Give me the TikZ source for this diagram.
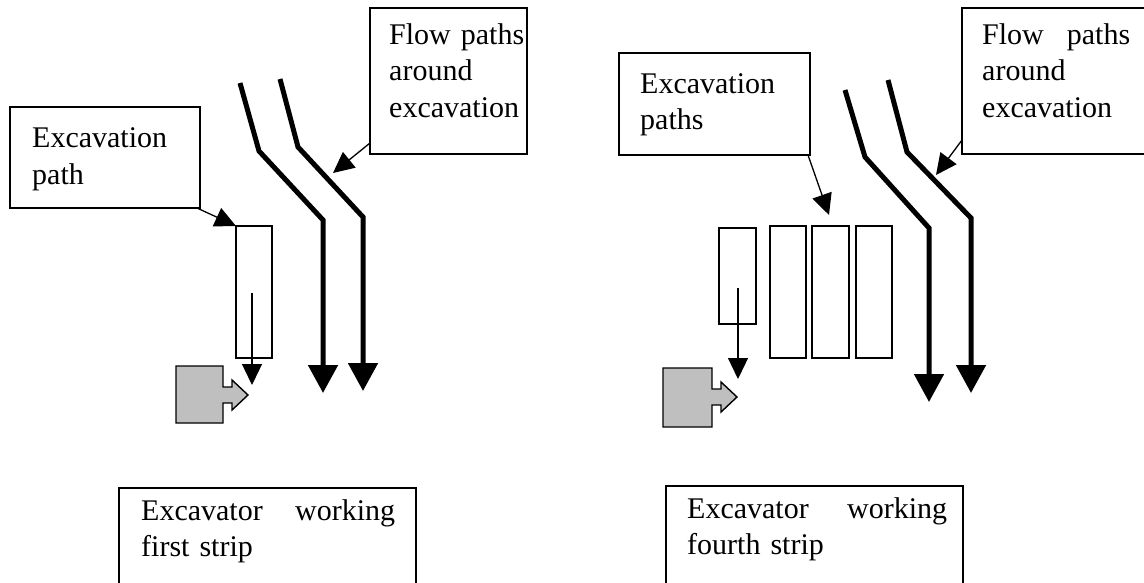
\documentclass[tikz,border=0pt]{standalone}
\usepackage{fontspec}
\setmainfont{Liberation Serif}
\usetikzlibrary{arrows.meta}

\begin{document}
\begin{tikzpicture}[x=1pt, y=-1pt,
  box/.style={draw, line width=1.4pt, inner sep=0pt, outer sep=0pt, anchor=north west},
  lbl/.style={font=\fontsize{30}{36.5}\selectfont, align=left, inner sep=0pt, anchor=base west},
  strip/.style={draw, line width=1.4pt, inner sep=0pt, outer sep=0pt, anchor=north west},
  pointer/.style={line width=1.3pt, -{Triangle[length=21pt, width=20pt]}},
  flow/.style={line width=5pt, miter limit=10, -{Triangle[length=28pt, width=29pt]}},
  digger/.style={draw, line width=1.4pt, fill=black!25, line join=miter}
]
\useasboundingbox (0,0) rectangle (1144,582);
\clip (0,0) rectangle (1144,582);

% ---------- first strip ----------
\node[box, minimum width=190pt, minimum height=101pt] (pathbox) at (10,107) {};
\node[lbl, text width=160pt] (pathtxt) at (32,147.5) {Excavation\\path};

\node[box, minimum width=157pt, minimum height=146pt] (flowL) at (370,8) {};
\node[lbl, text width=150pt] (flowLtxt) at (389,44) {Flow paths\\around\\excavation};

\node[strip, minimum width=36pt, minimum height=132pt] (stripL) at (236,226) {};

\node[box, minimum width=297pt, minimum height=130pt] (capL) at (119,488) {};
\node[lbl, text width=254pt] (capLtxt) at (141,520) {Excavator\hfill working\\first strip};

% flow lines bending round the excavation
\draw[flow] (240,83) -- (259,151) -- (323,220) -- (323,393);
\draw[flow] (280,79) -- (298,147) -- (363,217) -- (363,391);

% excavator
\draw[digger] (176,366) -- ++(47,0) -- ++(0,21) -- ++(9,0) -- ++(0,-7)
  -- ++(16,15) -- ++(-16,15) -- ++(0,-7) -- ++(-9,0) -- ++(0,20) -- ++(-47,0) -- cycle;

% pointers
\coordinate (flowLhit) at (333,173);
\coordinate (digLa) at (252,293);
\coordinate (digLb) at (252,385);
\draw[pointer] ([xshift=-3pt]pathbox.south east) -- (stripL.north west);
\draw[pointer] ([yshift=11pt]flowL.south west) -- (flowLhit);
\draw[pointer] (digLa) -- (digLb);

% ---------- fourth strip ----------
\node[box, minimum width=191pt, minimum height=102pt] (pathsbox) at (619,53) {};
\node[lbl, text width=160pt] (pathstxt) at (640,93) {Excavation\\paths};

\node[box, minimum width=220pt, minimum height=146pt] (flowR) at (962,8) {};
\node[lbl, text width=148pt] (flowRtxt) at (982,44) {Flow\hfill paths\\around\\excavation};

\node[strip, minimum width=37pt, minimum height=96pt] (stripR1) at (719,228) {};
\node[strip, minimum width=36pt, minimum height=132pt] (stripR2) at (770,226) {};
\node[strip, minimum width=37pt, minimum height=132pt] (stripR3) at (812,226) {};
\node[strip, minimum width=36pt, minimum height=132pt] (stripR4) at (856,226) {};

\node[box, minimum width=297pt, minimum height=130pt] (capR) at (666,486) {};
\node[lbl, text width=260pt] (capRtxt) at (687,518) {Excavator\hfill working\\fourth strip};

\draw[flow] (845,90) -- (865,157) -- (929,228) -- (929,402);
\draw[flow] (888,80) -- (907,152) -- (971,218) -- (971,393);

\draw[digger] (663,368) -- ++(49,0) -- ++(0,21) -- ++(9,0) -- ++(0,-7)
  -- ++(16,15) -- ++(-16,15) -- ++(0,-7) -- ++(-9,0) -- ++(0,22) -- ++(-49,0) -- cycle;

\coordinate (flowRhit) at (936,175);
\coordinate (pathshit) at (829,215);
\coordinate (digRa) at (738,288);
\coordinate (digRb) at (738,379);
\draw[pointer] ([xshift=-2pt]pathsbox.south east) -- (pathshit);
\draw[pointer] ([yshift=14pt]flowR.south west) -- (flowRhit);
\draw[pointer] (digRa) -- (digRb);
\end{tikzpicture}
\end{document}
